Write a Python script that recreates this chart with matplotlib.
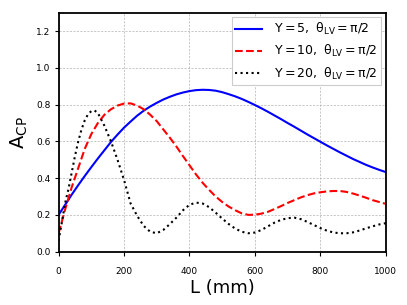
import matplotlib
matplotlib.use("Agg")
import matplotlib.pyplot as plt

L = [0, 20, 40, 60, 80, 100, 120, 140, 160, 180, 200, 220, 240, 260, 280,
     300, 320, 340, 360, 380, 400, 420, 440, 460, 480, 500, 520, 540, 560,
     580, 600, 620, 640, 660, 680, 700, 720, 740, 760, 780, 800, 820, 840,
     860, 880, 900, 920, 940, 960, 980, 1000]

acp_y5 = [0.200, 0.255, 0.310, 0.362, 0.412, 0.460, 0.507, 0.552, 0.597, 0.637,
          0.675, 0.708, 0.740, 0.767, 0.790, 0.810, 0.828, 0.843, 0.856, 0.866,
          0.874, 0.879, 0.881, 0.880, 0.876, 0.868, 0.857, 0.845, 0.831, 0.815,
          0.798, 0.780, 0.761, 0.741, 0.721, 0.700, 0.680, 0.659, 0.638, 0.618,
          0.598, 0.578, 0.559, 0.540, 0.522, 0.504, 0.488, 0.472, 0.458, 0.445,
          0.433]

acp_y10 = [0.100, 0.230, 0.350, 0.455, 0.560, 0.640, 0.700, 0.745, 0.775, 0.795,
           0.806, 0.807, 0.795, 0.775, 0.745, 0.710, 0.665, 0.620, 0.572, 0.520,
           0.470, 0.420, 0.375, 0.336, 0.300, 0.270, 0.245, 0.225, 0.208, 0.200,
           0.201, 0.207, 0.217, 0.232, 0.248, 0.265, 0.280, 0.295, 0.307, 0.317,
           0.323, 0.328, 0.330, 0.330, 0.325, 0.316, 0.305, 0.293, 0.280, 0.270,
           0.260]

# Y = 20 oscillates faster, so it gets its own finer grid at the start
L20 = [0, 10, 20, 30, 40, 50, 60, 70, 80, 90, 100, 110, 120, 140, 160, 180,
       200, 220, 240, 260, 280, 300, 320, 340, 360, 380, 400, 420, 440, 460,
       480, 500, 520, 540, 560, 580, 600, 620, 640, 660, 680, 700, 720, 740,
       760, 780, 800, 820, 840, 860, 880, 900, 920, 940, 960, 980, 1000]

acp_y20 = [0.060, 0.160, 0.265, 0.340, 0.430, 0.520, 0.600, 0.665, 0.715, 0.748,
           0.765, 0.768, 0.755, 0.685, 0.600, 0.500, 0.390, 0.262, 0.195, 0.140,
           0.108, 0.100, 0.118, 0.150, 0.185, 0.225, 0.255, 0.267, 0.262, 0.242,
           0.212, 0.180, 0.150, 0.125, 0.108, 0.100, 0.104, 0.118, 0.138, 0.158,
           0.173, 0.182, 0.185, 0.177, 0.162, 0.145, 0.128, 0.114, 0.104, 0.100,
           0.100, 0.105, 0.115, 0.127, 0.138, 0.148, 0.155]

labels = [r"$\mathregular{Y = 5,\ \theta_{LV} = \pi/2}$",
          r"$\mathregular{Y = 10,\ \theta_{LV} = \pi/2}$",
          r"$\mathregular{Y = 20,\ \theta_{LV} = \pi/2}$"]

fig = plt.figure(figsize=(4.07, 3.05), dpi=100)
ax = fig.add_axes([0.144, 0.175, 0.804, 0.783])

ax.plot(L, acp_y5, color="blue", lw=1.5, ls="-", label=labels[0])
ax.plot(L, acp_y10, color="red", lw=1.5, ls="--", label=labels[1])
ax.plot(L20, acp_y20, color="black", lw=1.5, ls=":", label=labels[2])

ax.set_xlim(0, 1000)
ax.set_ylim(0, 1.3)
ax.set_xticks([0, 200, 400, 600, 800, 1000])
ax.set_yticks([0.0, 0.2, 0.4, 0.6, 0.8, 1.0, 1.2])
ax.set_yticklabels(["0.0", "0.2", "0.4", "0.6", "0.8", "1.0", "1.2"])
ax.tick_params(direction="out", length=3, width=0.8, labelsize=6.5, pad=3)
ax.tick_params(axis="x", pad=8)
ax.grid(True, ls=(0, (3, 2)), lw=0.5, color="#b0b0b0")
for s in ax.spines.values():
    s.set_linewidth(1.3)

ax.set_xlabel("L (mm)", fontsize=13, labelpad=2)
ax.set_ylabel(r"$\mathregular{A_{CP}}$", fontsize=14, labelpad=4)

leg = ax.legend(loc="upper right", fontsize=9, handlelength=2.1,
                handletextpad=1.0, framealpha=1, edgecolor="#cccccc",
                fancybox=False, borderpad=0.3, labelspacing=0.5,
                borderaxespad=0.35)
leg.get_frame().set_linewidth(0.8)

fig.savefig("out.png", dpi=100)
plt.close(fig)
